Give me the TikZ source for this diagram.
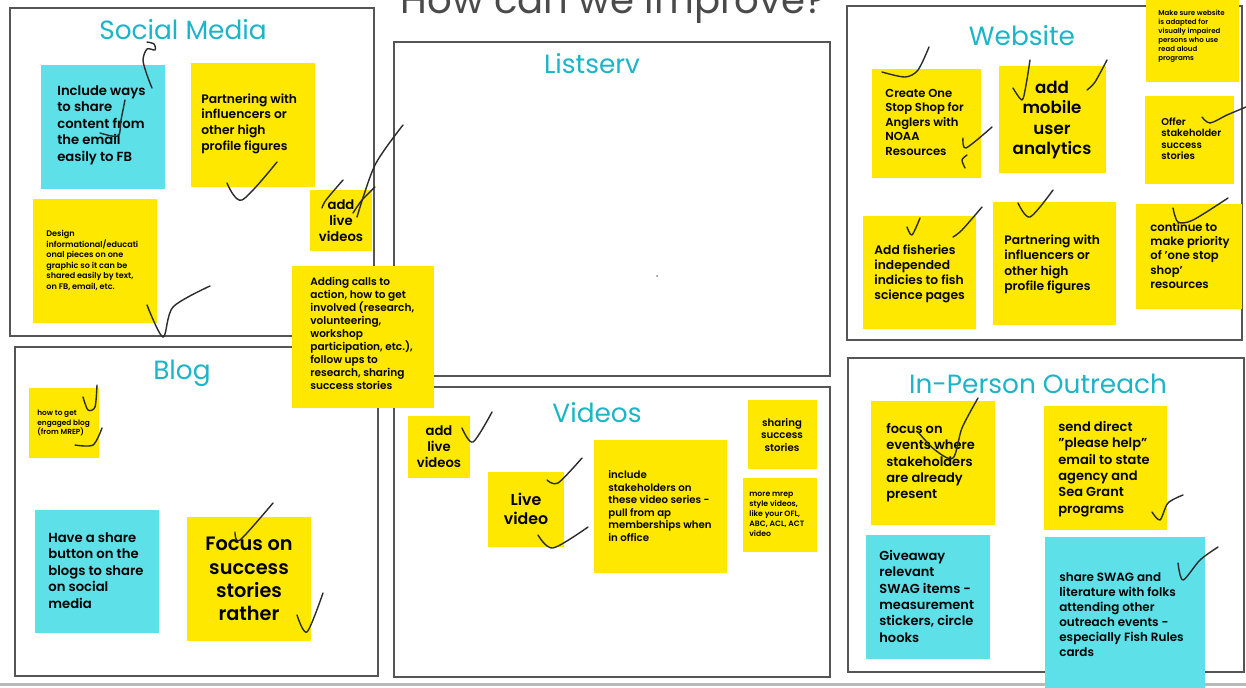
\documentclass[tikz,border=0pt]{standalone}
\usepackage{fontspec}
\usepackage{xcolor}
\usepackage{tikz}
\setmainfont{Poppins}[BoldFont={Poppins SemiBold}]
\definecolor{background}{HTML}{FFFFFF}
\definecolor{frame}{HTML}{555555}
\definecolor{heading}{HTML}{1BB4C9}
\definecolor{sticky}{HTML}{FFE800}
\definecolor{aqua}{HTML}{5EE0E8}
\definecolor{ink}{HTML}{2B2B2B}
\definecolor{titlegray}{HTML}{4A4A4A}
\newcommand{\sz}[2]{\fontsize{#1}{#2}\selectfont}
\tikzset{
  panel/.style={draw=frame, line width=1.2pt},
  heading/.style={anchor=base, text=heading, font=\sz{15}{18}},
  notetext/.style={anchor=north west, align=left, inner sep=0pt, text=black},
  notecenter/.style={align=center, inner sep=0pt, text=black},
  pen/.style={draw=ink, line width=0.8pt, line cap=round, line join=round},
}

\begin{document}
\begin{tikzpicture}[x=0.02cm, y=-0.02cm]
\path[use as bounding box] (0,0) rectangle (1246,687);
\clip (0,0) rectangle (1246,687);
\fill[background] (0,0) rectangle (1246,687);

% Title at the top, cut off by the page edge
\node[anchor=base, text=titlegray, font=\sz{22}{26}] (title) at (613,13) {How can we improve?};

% The six panels
\draw[panel] (10,8) rectangle (374,336);
\draw[panel] (394,42) rectangle (830,376);
\draw[panel] (847,6) rectangle (1242,340);
\draw[panel] (15,347) rectangle (378,676);
\draw[panel] (394,387) rectangle (830,677);
\draw[panel] (848,358) rectangle (1244,672);
\draw[gray!55, line width=1.7pt] (0,684) -- (1246,684);

\node[heading] (social) at (183,39) {Social Media};
\node[heading] (listserv) at (592,73) {Listserv};
\node[heading] (website) at (1022,45) {Website};
\node[heading] (blog) at (182,379) {Blog};
\node[heading] (videos) at (597,422) {Videos};
\node[heading] (outreach) at (1038,393) {In-Person Outreach};
\fill[gray] (657,276) circle (1);

% Social Media notes
\fill[aqua] (41,65) rectangle (165,189);
\node[notetext, font=\bfseries\sz{7.5}{9.4}] (smshare) at (57,85) {Include ways\\to share\\content from\\the email\\easily to FB};
\fill[sticky] (191,63) rectangle (315,187);
\node[notetext, font=\bfseries\sz{7}{9}] (smpartner) at (201,93) {Partnering with\\influencers or\\other high\\profile figures};
\fill[sticky] (33,199) rectangle (157,323);
\node[notetext, font=\bfseries\sz{4.6}{6}] (smdesign) at (46,230) {Design\\informational/educati\\onal pieces on one\\graphic so it can be\\shared easily by text,\\on FB, email, etc.};
\fill[sticky] (310,190) rectangle (372,251);
\node[notecenter, font=\bfseries\sz{7.5}{9.2}] (smlive) at (341,221) {add\\live\\videos};
\fill[sticky] (292,266) rectangle (434,408);
\node[notetext, font=\bfseries\sz{6}{7.4}] (smcalls) at (310,277) {Adding calls to\\action, how to get\\involved (research,\\volunteering,\\workshop\\participation, etc.),\\follow ups to\\research, sharing\\success stories};

% Website notes
\fill[sticky] (872,69) rectangle (981,178);
\node[notetext, font=\bfseries\sz{6.6}{8.2}] (webshop) at (885,89) {Create One\\Stop Shop for\\Anglers with\\NOAA\\Resources};
\fill[sticky] (999,66) rectangle (1106,173);
\node[notecenter, font=\bfseries\sz{9.5}{11.4}] (webmobile) at (1052,120) {add\\mobile\\user\\analytics};
\fill[sticky] (1146,0) rectangle (1239,82);
\node[notetext, font=\bfseries\sz{4}{5.1}] (webaccess) at (1158,10) {Make sure website\\is adapted for\\visually impaired\\persons who use\\read aloud\\programs};
\fill[sticky] (1145,96) rectangle (1234,184);
\node[notetext, font=\bfseries\sz{5.6}{6.6}] (weboffer) at (1161,117) {Offer\\stakeholder\\success\\stories};
\fill[sticky] (863,216) rectangle (976,329);
\node[notetext, font=\bfseries\sz{7}{8.7}] (webfish) at (874,244) {Add fisheries\\independed\\indicies to fish\\science pages};
\fill[sticky] (993,202) rectangle (1116,325);
\node[notetext, font=\bfseries\sz{7}{8.9}] (webpartner) at (1004,234) {Partnering with\\influencers or\\other high\\profile figures};
\fill[sticky] (1136,204) rectangle (1242,309);
\node[notetext, font=\bfseries\sz{6.6}{8.1}] (webpriority) at (1150,222) {continue to\\make priority\\of \char"27 one stop\\shop\char"27\\resources};

% Blog notes
\fill[sticky] (29,388) rectangle (99,458);
\node[notetext, font=\bfseries\sz{4.2}{5.3}] (blogengage) at (37,410) {how to get\\engaged blog\\(from MREP)};
\fill[aqua] (35,510) rectangle (159,633);
\node[notetext, font=\bfseries\sz{7.5}{9.4}] (blogshare) at (48,532) {Have a share\\button on the\\blogs to share\\on social\\media};
\fill[sticky] (187,517) rectangle (311,641);
\node[notecenter, font=\bfseries\sz{11}{13.2}] (blogfocus) at (249,579) {Focus on\\success\\stories\\rather};

% Videos notes
\fill[sticky] (408,416) rectangle (470,478);
\node[notecenter, font=\bfseries\sz{7.5}{9.2}] (vidlive) at (439,447) {add\\live\\videos};
\fill[sticky] (488,472) rectangle (564,547);
\node[notecenter, font=\bfseries\sz{9}{10.8}] (vidlivevideo) at (526,509) {Live\\video};
\fill[sticky] (594,440) rectangle (727,573);
\node[notetext, font=\bfseries\sz{5.8}{7.2}] (vidstake) at (608,470) {include\\stakeholders on\\these video series -\\pull from ap\\memberships when\\in office};
\fill[sticky] (748,400) rectangle (817,469);
\node[notecenter, font=\bfseries\sz{5.8}{7.2}] (vidsuccess) at (782,435) {sharing\\success\\stories};
\fill[sticky] (743,478) rectangle (817,552);
\node[notetext, font=\bfseries\sz{4.4}{5.6}] (vidmrep) at (749,492) {more mrep\\style videos,\\like your OFL,\\ABC, ACL, ACT\\video};

% In-Person Outreach notes
\fill[sticky] (871,401) rectangle (995,525);
\node[notetext, font=\bfseries\sz{7.4}{9.3}] (outevents) at (886,423) {focus on\\events where\\stakeholders\\are already\\present};
\fill[sticky] (1044,406) rectangle (1167,530);
\node[notetext, font=\bfseries\sz{7.4}{9.3}] (outemail) at (1058,421) {send direct\\\char"22 please help\char"22\\email to state\\agency and\\Sea Grant\\programs};
\fill[aqua] (866,535) rectangle (990,659);
\node[notetext, font=\bfseries\sz{7.4}{9.3}] (outswag) at (879,550) {Giveaway\\relevant\\SWAG items -\\measurement\\stickers, circle\\hooks};
\fill[aqua] (1045,537) rectangle (1205,690);
\node[notetext, font=\bfseries\sz{6.8}{8.6}] (outshare) at (1059,572) {share SWAG and\\literature with folks\\attending other\\outreach events -\\especially Fish Rules\\cards};

% Hand drawn ticks
\draw[pen] plot[smooth] coordinates {(147,42) (154,44) (155,50) (147,49) (143,60) (147,75) (152,88)};
\draw[pen] plot[smooth] coordinates {(125,100) (121,120) (118,136) (100,133)};
\draw[pen] plot[smooth] coordinates {(227,183) (242,200) (277,162)};
\draw[pen] plot[smooth] coordinates {(322,208) (326,200) (343,180)};
\draw[pen] plot[smooth] coordinates {(403,125) (375,165) (357,217)};
\draw[pen] plot[smooth] coordinates {(375,187) (362,200) (353,213)};
\draw[pen] plot[smooth] coordinates {(147,305) (163,337) (173,307) (210,286)};
\draw[pen] plot[smooth] coordinates {(882,72) (905,77) (918,70) (929,47)};
\draw[pen] plot[smooth] coordinates {(963,138) (966,148) (992,127)};
\draw[pen] plot[smooth] coordinates {(967,155) (962,160) (965,168)};
\draw[pen] plot[smooth] coordinates {(1030,60) (1026,85) (1022,100) (1013,88)};
\draw[pen] plot[smooth] coordinates {(1087,90) (1095,82) (1107,60)};
\draw[pen] plot[smooth] coordinates {(1202,117) (1210,123) (1227,115) (1246,107)};
\draw[pen] plot[smooth] coordinates {(907,227) (912,235) (920,218)};
\draw[pen] plot[smooth] coordinates {(953,237) (962,230) (982,207)};
\draw[pen] plot[smooth] coordinates {(1018,203) (1030,217) (1053,190)};
\draw[pen] plot[smooth] coordinates {(1173,208) (1178,222) (1193,220) (1228,198)};
\draw[pen] plot[smooth] coordinates {(97,385) (95,407) (88,410) (83,397)};
\draw[pen] plot[smooth] coordinates {(75,445) (93,445) (102,428)};
\draw[pen] plot[smooth] coordinates {(235,532) (240,540) (273,503)};
\draw[pen] plot[smooth] coordinates {(297,615) (307,632) (323,593)};
\draw[pen] plot[smooth] coordinates {(462,428) (473,442) (492,412)};
\draw[pen] plot[smooth] coordinates {(547,480) (558,483) (582,458)};
\draw[pen] plot[smooth] coordinates {(538,535) (553,548) (588,527)};
\draw[pen] plot[smooth] coordinates {(978,398) (962,428) (953,458) (935,450) (918,432)};
\draw[pen] plot[smooth] coordinates {(1152,512) (1160,520) (1168,503) (1183,495)};
\draw[pen] plot[smooth] coordinates {(1178,563) (1183,580) (1200,560) (1218,547)};
\end{tikzpicture}
\end{document}
